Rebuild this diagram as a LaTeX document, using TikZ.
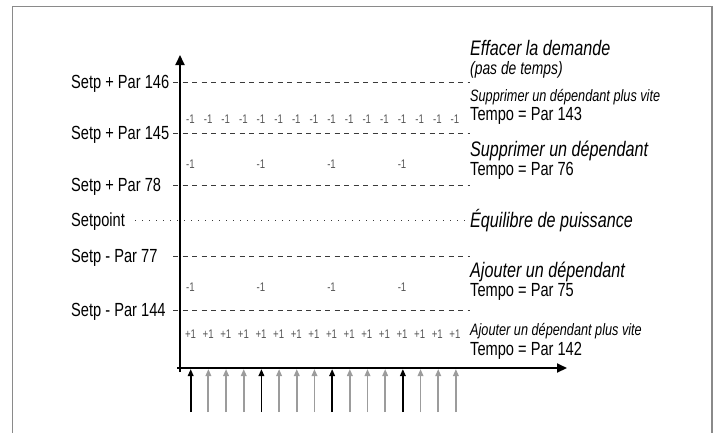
\documentclass[tikz,border=0pt]{standalone}
\usepackage{fontspec}
\setmainfont{Liberation Sans}
\newfontfamily\condfont[FakeStretch=0.77]{Liberation Sans}
\usetikzlibrary{arrows.meta, positioning}
\definecolor{FrameGray}{HTML}{8A8A8A}
\definecolor{LevelGray}{HTML}{3A3A3A}
\definecolor{StepGray}{HTML}{555555}
\definecolor{PulseGray}{HTML}{9C9C9C}

\tikzset{
  level/.style={dash pattern=on 5pt off 4.5pt, color=LevelGray, line width=0.9pt},
  balance/.style={dash pattern=on 1pt off 6pt, color=LevelGray, line width=0.9pt},
  axisline/.style={line width=2pt, -{Triangle[length=10pt, width=9pt]}},
  pulse/.style={line width=1.8pt, -{Triangle[length=7pt, width=5.5pt]}},
  levellabel/.style={anchor=base west, inner sep=0pt, font=\condfont\fontsize{19}{22}\selectfont},
  bigtext/.style={anchor=base west, inner sep=0pt, font=\condfont\itshape\fontsize{21}{24}\selectfont},
  smalltext/.style={anchor=base west, inner sep=0pt, font=\condfont\itshape\fontsize{16.5}{19}\selectfont},
  tempotext/.style={anchor=base west, inner sep=0pt, font=\condfont\fontsize{19}{22}\selectfont},
  steptext/.style={inner sep=0pt, color=StepGray, font=\condfont\fontsize{12.5}{14}\selectfont}
}

\begin{document}
\begin{tikzpicture}[x=1pt, y=-1pt]
  \useasboundingbox (0,0) rectangle (718,432);

  % frame
  \draw[color=FrameGray, line width=1.5pt] (12.7,440) -- (12.7,6.5) -- (712,6.5) -- (712,440);

  % levels
  \foreach \y/\name in {82/p146, 133/p145, 185/p78, 256/m77, 310/m144} {
    \coordinate (\name-w) at (173,\y);
    \coordinate (\name-e) at (470,\y);
    \draw[level] (\name-w) -- (\name-e);
  }
  \coordinate (set-w) at (135,220);
  \coordinate (set-e) at (468,220);
  \draw[balance] (set-w) -- (set-e);

  % axes
  \coordinate (origin) at (180,372);
  \coordinate (ytop) at (180,55);
  \coordinate (xleft) at (177,368);
  \coordinate (xright) at (567,368);
  \draw[axisline] (origin) -- (ytop);
  \draw[axisline] (xleft) -- (xright);

  % level labels
  \node[levellabel] (sp146) at (71,88.8) {Setp + Par 146};
  \node[levellabel] (sp145) at (71,139.8) {Setp + Par 145};
  \node[levellabel] (sp78) at (71,191.8) {Setp + Par 78};
  \node[levellabel] (spset) at (71,226.8) {Setpoint};
  \node[levellabel] (sm77) at (71,262.8) {Setp - Par 77};
  \node[levellabel] (sm144) at (71,316.8) {Setp - Par 144};

  % zone texts
  \node[bigtext] (clear) at (470,55) {Effacer la demande};
  \node[smalltext, font=\condfont\itshape\fontsize{18}{20}\selectfont] (clearsub) at (470,74) {(pas de temps)};
  \node[smalltext] (fastdrop) at (470,101.7) {Supprimer un dépendant plus vite};
  \node[tempotext] (tempo143) at (470,120.7) {Tempo = Par 143};
  \node[bigtext] (drop) at (470,156) {Supprimer un dépendant};
  \node[tempotext] (tempo76) at (470,175.7) {Tempo = Par 76};
  \node[bigtext] (balance) at (470,227) {Équilibre de puissance};
  \node[bigtext] (add) at (470,277) {Ajouter un dépendant};
  \node[tempotext] (tempo75) at (470,296) {Tempo = Par 75};
  \node[smalltext] (fastadd) at (470,335.7) {Ajouter un dépendant plus vite};
  \node[tempotext] (tempo142) at (470,355) {Tempo = Par 142};

  % steps
  \foreach \i in {0,...,15} {
    \node[steptext] (fd\i) at (190.5+17.63*\i,119.5) {-1};
    \node[steptext] (fa\i) at (190.5+17.63*\i,334.5) {+1};
  }
  \foreach \i in {0,...,3} {
    \node[steptext] (dr\i) at (190.5+70.52*\i,164) {-1};
    \node[steptext] (ad\i) at (190.5+70.52*\i,287.5) {-1};
  }

  % time pulses
  \foreach \i in {0,...,15} {
    \pgfmathtruncatemacro{\k}{mod(\i,4)}
    \coordinate (pb\i) at (190.7+17.68*\i,412);
    \coordinate (pt\i) at (190.7+17.68*\i,369);
    \ifnum\k=0
      \draw[pulse, color=black] (pb\i) -- (pt\i);
    \else
      \draw[pulse, color=PulseGray] (pb\i) -- (pt\i);
    \fi
  }
\end{tikzpicture}
\end{document}
